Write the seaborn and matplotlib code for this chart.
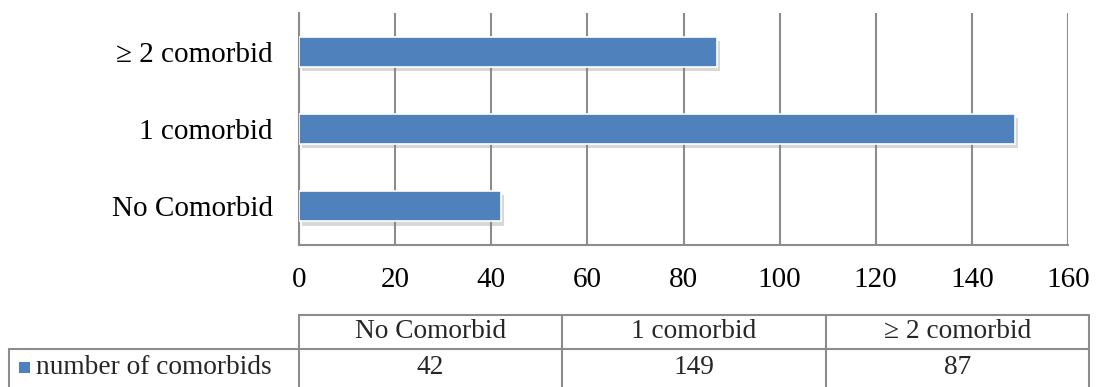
import matplotlib
matplotlib.use("Agg")
import matplotlib.pyplot as plt
import matplotlib.patheffects as pe
from matplotlib.lines import Line2D
from matplotlib.patches import Rectangle
import seaborn as sns
import pandas as pd

# Data
categories = ["No Comorbid", "1 comorbid", "\u2265 2 comorbid"]
counts = [42, 149, 87]
series_name = "number of comorbids"
x_ticks = [0, 20, 40, 60, 80, 100, 120, 140, 160]

BAR_COLOR = "#4F81BD"
GRID_COLOR = "#8C8C8C"

sns.set_theme(style="white")
plt.rcParams["font.family"] = ["Liberation Serif", "DejaVu Serif"]

W, H = 1099, 387
fig = plt.figure(figsize=(W / 100, H / 100), dpi=100)
ax = fig.add_axes([299 / W, 1 - 245 / H, (1068 - 299) / W, (245 - 13) / H])

df = pd.DataFrame({"category": categories, "count": counts})
plot_order = categories[::-1]  # top-to-bottom
sns.barplot(data=df, x="count", y="category", order=plot_order, orient="h",
            color=BAR_COLOR, saturation=1, width=0.39, ax=ax,
            edgecolor="white", linewidth=1.2)

for bar in ax.patches:
    bar.set_path_effects([
        pe.SimplePatchShadow(offset=(2, -3), shadow_rgbFace="#7f7f7f", alpha=0.3),
        pe.Normal(),
    ])
    bar.set_zorder(3)

ax.set_xlim(0, 160)
ax.set_ylim(2.5, -0.5)
ax.set_xticks(x_ticks)
ax.set_xticklabels([str(t) for t in x_ticks])
ax.set_xlabel("")
ax.set_ylabel("")
ax.grid(axis="x", color=GRID_COLOR, linewidth=1.5, zorder=0)
ax.grid(axis="y", visible=False)
ax.set_axisbelow(True)
ax.tick_params(axis="x", length=0, pad=16, labelsize=21, colors="black")
ax.tick_params(axis="y", length=0, pad=19, labelsize=21, colors="black")
for side in ["top", "right"]:
    ax.spines[side].set_visible(False)
for side in ["left", "bottom"]:
    ax.spines[side].set_color(GRID_COLOR)
    ax.spines[side].set_linewidth(1.5)

# Data table under the chart
def fx(px):
    return px / W

def fy(py):
    return 1 - py / H

line_kw = dict(color=GRID_COLOR, linewidth=1.5, transform=fig.transFigure)
col_edges = [299, 562, 826, 1089]
y_top, y_mid, y_bot = 315, 349, 392
fig.add_artist(Line2D([fx(299), fx(1089)], [fy(y_top), fy(y_top)], **line_kw))
fig.add_artist(Line2D([fx(9), fx(1089)], [fy(y_mid), fy(y_mid)], **line_kw))
fig.add_artist(Line2D([fx(9), fx(9)], [fy(y_mid), fy(y_bot)], **line_kw))
for xe in col_edges:
    fig.add_artist(Line2D([fx(xe), fx(xe)], [fy(y_top), fy(y_bot)], **line_kw))

table_fs = 19.7
for i, (cat, val) in enumerate(zip(categories, counts)):
    xc = (col_edges[i] + col_edges[i + 1]) / 2
    fig.text(fx(xc), fy(332), cat, ha="center", va="center", fontsize=table_fs)
    fig.text(fx(xc), fy(367), str(val), ha="center", va="center", fontsize=table_fs)

fig.add_artist(Rectangle((fx(19), fy(373)), fx(11), 11 / H, facecolor=BAR_COLOR,
                         edgecolor="none", transform=fig.transFigure))
fig.text(fx(36), fy(367), series_name, ha="left", va="center", fontsize=table_fs)

fig.savefig("out.png", dpi=100)
